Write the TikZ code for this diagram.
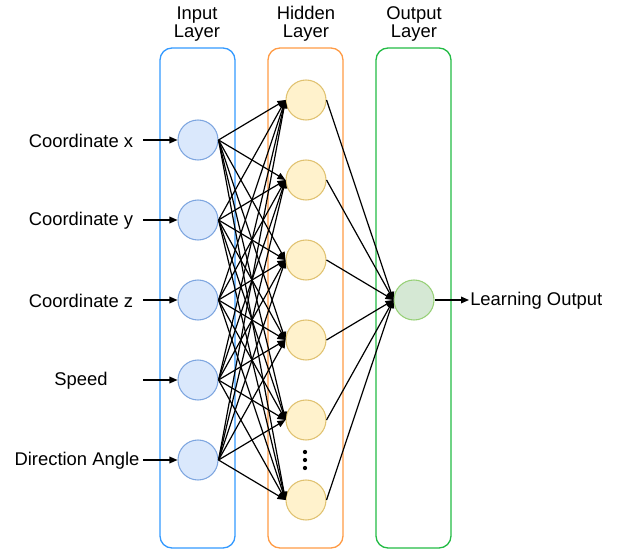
\documentclass[tikz,border=0pt]{standalone}
\usepackage{fontspec}
\setmainfont{Liberation Sans}
\usetikzlibrary{arrows.meta}
\definecolor{inFill}{HTML}{DAE8FC}
\definecolor{inLine}{HTML}{7EA6E0}
\definecolor{hidFill}{HTML}{FFF2CC}
\definecolor{hidLine}{HTML}{E0C270}
\definecolor{outFill}{HTML}{D5E8D4}
\definecolor{outLine}{HTML}{97D077}
\definecolor{boxBlue}{HTML}{3399FF}
\definecolor{boxOrange}{HTML}{FF9B45}
\definecolor{boxGreen}{HTML}{22BB44}
\begin{document}
\begin{tikzpicture}[x=0.75pt,y=-0.75pt,
  every node/.style={font=\fontsize{13.8}{13.5}\selectfont},
  layerbox/.style={rounded corners=9pt,line width=1pt},
  neuron/.style={circle,minimum size=30pt,inner sep=0pt,line width=0.8pt},
  inneuron/.style={neuron,draw=inLine,fill=inFill},
  hidneuron/.style={neuron,draw=hidLine,fill=hidFill},
  outneuron/.style={neuron,draw=outLine,fill=outFill},
  conn/.style={line width=0.9pt,-{Triangle[length=6pt,width=5pt]}},
  title/.style={align=center,inner sep=0pt},
  lab/.style={inner sep=0pt}]
\path[use as bounding box] (0,0) rectangle (619,549);
% layer boxes
\draw[layerbox,draw=boxBlue] (160,48) rectangle (235,548);
\draw[layerbox,draw=boxOrange] (268,48) rectangle (343,548);
\draw[layerbox,draw=boxGreen] (376,48) rectangle (451,548);
% titles
\node[title] (tin) at (197,24) {Input\\Layer};
\node[title] (thid) at (306,24) {Hidden\\Layer};
\node[title] (tout) at (414,24) {Output\\Layer};
% input neurons
\foreach \i/\y in {1/140,2/220,3/300,4/380,5/460}
  \node[inneuron] (in\i) at (198,\y) {};
% hidden neurons
\foreach \j/\y in {1/100,2/180,3/260,4/340,5/420,6/500}
  \node[hidneuron] (h\j) at (306,\y) {};
% output neuron
\node[outneuron] (o) at (414,300) {};
% dots
\foreach \y in {452,460,468}
  \fill (305,\y) circle (1.6pt);
% input labels
\node[lab] (l1) at (81,141) {Coordinate x};
\node[lab] (l2) at (81,221) {Coordinate y};
\node[lab] (l3) at (81,301) {Coordinate z};
\node[lab] (l4) at (81,381) {Speed};
\node[lab] (l5) at (77,461) {Direction Angle};
\foreach \i/\y in {1/140,2/220,3/300,4/380,5/460}{
  \coordinate (s\i) at (143,\y);
  \draw[conn] (s\i) -- (in\i.west);
}
% input to hidden
\foreach \i in {1,...,5}
  \foreach \j in {1,...,6}
    \draw[conn] (in\i.east) -- (h\j.west);
% hidden to output
\foreach \j in {1,...,6}
  \draw[conn] (h\j.east) -- (o.west);
% output
\coordinate (e) at (469,300);
\draw[conn] (o.east) -- (e);
\node[lab,anchor=west] (lo) at (470,301) {Learning Output};
\end{tikzpicture}
\end{document}
